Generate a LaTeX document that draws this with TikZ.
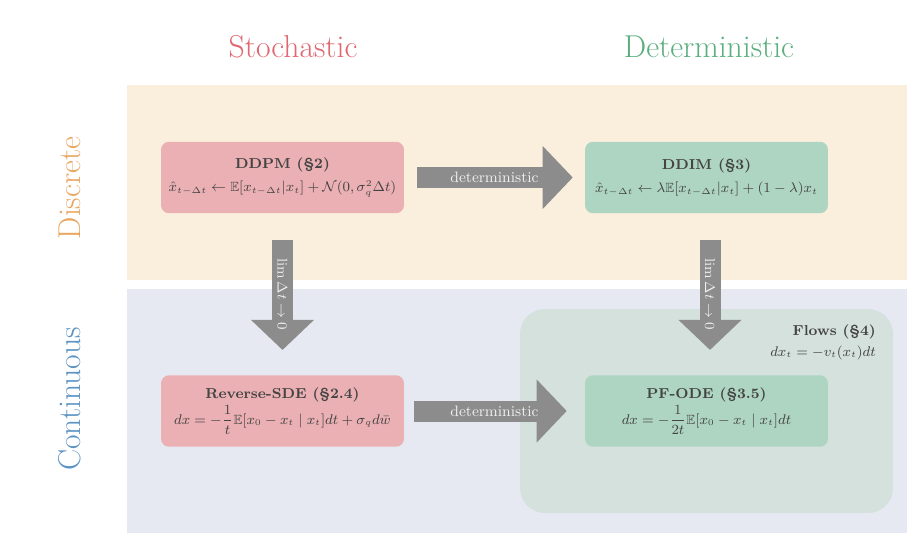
\documentclass[tikz,border=0pt]{standalone}
\usepackage{amsmath,amssymb}
\usetikzlibrary{arrows.meta}
\definecolor{creamband}{HTML}{FAEEDC}
\definecolor{blueband}{HTML}{E6E9F1}
\definecolor{flowsfill}{HTML}{D4E1DC}
\definecolor{stochfill}{HTML}{EBB0B4}
\definecolor{detfill}{HTML}{AED5C1}
\definecolor{arrowgray}{HTML}{8C8C8C}
\definecolor{textgray}{HTML}{444444}
\definecolor{stochred}{HTML}{E0666F}
\definecolor{detgreen}{HTML}{5BAE7D}
\definecolor{discorange}{HTML}{E8A661}
\definecolor{contblue}{HTML}{5B93C2}
\newcommand{\eqsize}{\fontsize{7.6}{9}\selectfont}
\begin{document}
\begin{tikzpicture}[x=0.02cm,y=-0.02cm,
    box/.style={rounded corners=0.16cm,minimum width=4.86cm,minimum height=1.43cm,
      align=center,text=textgray,font=\fontsize{8.2}{10}\selectfont},
    stoch/.style={box,fill=stochfill},
    determ/.style={box,fill=detfill},
    heading/.style={font=\fontsize{18}{20}\selectfont},
    fatarrow/.style={draw=arrowgray,line width=0.42cm,
      -{Triangle[length=0.6cm,width=1.26cm,line width=0pt]}},
    lbl/.style={text=white!94!black,font=\fontsize{8.6}{10}\selectfont},
    limlbl/.style={lbl,rotate=-90,font=\fontsize{8}{9}\selectfont}]
  \useasboundingbox (0,0) rectangle (920,544);
  \fill[creamband] (127,85) rectangle (907,280);
  \fill[blueband] (127,289) rectangle (907,533);
  \fill[flowsfill,rounded corners=0.5cm] (520,309) rectangle (893,513);
  \node[heading,text=stochred] (sto) at (293,47) {Stochastic};
  \node[heading,text=detgreen] (det) at (709,47) {Deterministic};
  \node[heading,text=discorange,rotate=90] (disc) at (70,188) {Discrete};
  \node[heading,text=contblue,rotate=90] (cont) at (70,399) {Continuous};
  \node[stoch] (ddpm) at (282.5,177.5)
    {\textbf{DDPM (\S2)}\\[3pt]
     \eqsize$\hat{x}_{t-\Delta t}\leftarrow\mathbb{E}[x_{t-\Delta t}|x_t]+\mathcal{N}(0,\sigma_q^2\Delta t)$};
  \node[determ] (ddim) at (706.5,177.5)
    {\textbf{DDIM (\S3)}\\[3pt]
     \eqsize$\hat{x}_{t-\Delta t}\leftarrow\lambda\mathbb{E}[x_{t-\Delta t}|x_t]+(1-\lambda)x_t$};
  \node[stoch] (rsde) at (282.5,411)
    {\textbf{Reverse-SDE (\S2.4)}\\[1pt]
     \eqsize$dx=-\dfrac{1}{t}\mathbb{E}[x_0-x_t\mid x_t]dt+\sigma_q d\bar{w}$};
  \node[determ] (pfode) at (706.5,411)
    {\textbf{PF-ODE (\S3.5)}\\[1pt]
     \eqsize$dx=-\dfrac{1}{2t}\mathbb{E}[x_0-x_t\mid x_t]dt$};
  \node[anchor=east,align=right,text=textgray,font=\fontsize{8.2}{10}\selectfont]
    (flows) at (882,342) {\textbf{Flows (\S4)}\\[2pt] \eqsize$dx_t=-v_t(x_t)dt$};
  \draw[fatarrow,shorten <=0.26cm,shorten >=0.24cm] (ddpm.east) --
    node[lbl] {deterministic} (ddim.west);
  \draw[fatarrow,shorten <=0.2cm,shorten >=0.36cm] (rsde.east) --
    node[lbl] {deterministic} (pfode.west);
  \draw[fatarrow,shorten <=0.52cm,shorten >=0.5cm] (ddpm.south) --
    node[limlbl] {$\lim\Delta t\rightarrow0$} (rsde.north);
  \draw[fatarrow,shorten <=0.52cm,shorten >=0.5cm] ([xshift=0.07cm]ddim.south) --
    node[limlbl] {$\lim\Delta t\rightarrow0$} ([xshift=0.07cm]pfode.north);
\end{tikzpicture}
\end{document}
